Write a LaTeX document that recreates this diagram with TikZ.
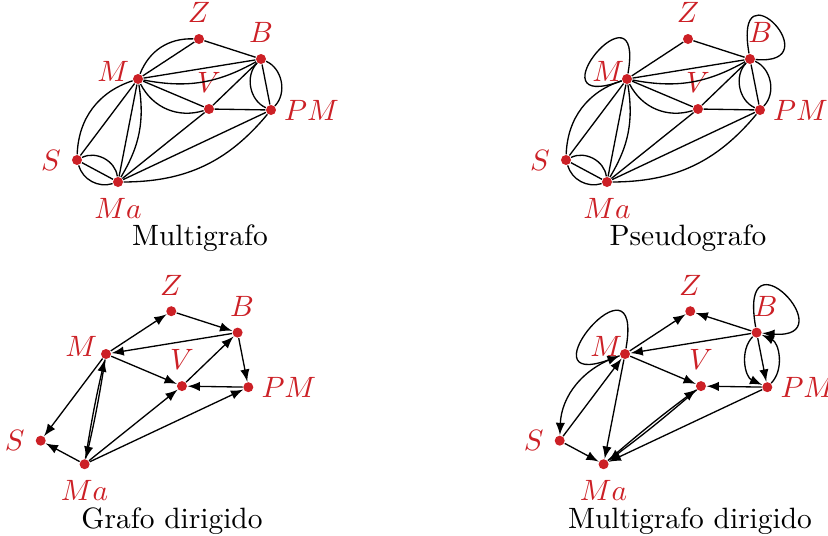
\documentclass[tikz,border=0pt]{standalone}
\usepackage{amsmath}
\usepackage{tikz}
\usetikzlibrary{arrows}
\definecolor{rojo}{RGB}{204,32,38}

% the seven vertices, placed relative to M (#1, #2: shift of the M and B labels)
\newcommand{\ponervertices}[2]{%
    \node (M) [vert, label={[label distance=-2.5pt, yshift=2.5pt, xshift=#1]left:$M$}] at (0,0) {};
    \node (Z) [vert, label=above:$Z$] at (61,40) {};
    \node (B) [vert, label={[xshift=#2]above:$B$}] at (123,20) {};
    \node (V) [vert, label=above:$V$] at (71,-30) {};
    \node (PM) [vert, label={[label distance=-1pt]right:$PM$}] at (133,-31) {};
    \node (S) [vert, label=left:$S$] at (-61,-81) {};
    \node (Ma) [vert, label=below:$Ma$] at (-20,-103) {};
}

\begin{document}
\begin{tikzpicture}[
    x=0.34pt, y=0.34pt, line width=0.45pt,
    vert/.style={circle, fill=rojo, inner sep=0pt, minimum size=3.4pt},
    every label/.style={text=rojo, font=\fontsize{10.2}{12}\selectfont},
    arco/.style={->,>=latex}
]
    \useasboundingbox (0,0) rectangle (828,-536);

    % Multigrafo
    \begin{scope}[shift={(138,-79)}]
        \ponervertices{0pt}{0pt}
        \draw (M) -- (Z);
        \draw (M) to[bend left=35] (Z);
        \draw (Z) -- (B);
        \draw (M) -- (B);
        \draw (M) to[bend right=20] (B);
        \draw (M) -- (V);
        \draw (M) to[bend right=40] (V);
        \draw (M) -- (S);
        \draw (M) to[bend right=35] (S);
        \draw (M) -- (Ma);
        \draw (M) to[bend left=20] (Ma);
        \draw (B) -- (V);
        \draw (B) -- (PM);
        \draw (B) to[bend left=55] (PM);
        \draw (B) to[bend right=55] (PM);
        \draw (V) -- (PM);
        \draw (V) -- (Ma);
        \draw (PM) -- (Ma);
        \draw (PM) to[bend left=25] (Ma);
        \draw (S) -- (Ma);
        \draw (S) to[bend left=55] (Ma);
        \draw (S) to[bend right=45] (Ma);
    \end{scope}
    \node (tmulti) at (200,-238) {Multigrafo};

    % Pseudografo
    \begin{scope}[shift={(627,-79)}]
        \ponervertices{2pt}{3.5pt}
        \draw (M) to[out=80, in=200, distance=34pt] (M);
        \draw (B) to[out=100, in=-5, out distance=32pt, in distance=26pt] (B);
        \draw (M) -- (Z);
        \draw (Z) -- (B);
        \draw (M) -- (B);
        \draw (M) to[bend right=20] (B);
        \draw (M) -- (V);
        \draw (M) to[bend right=40] (V);
        \draw (M) -- (S);
        \draw (M) to[bend right=35] (S);
        \draw (M) -- (Ma);
        \draw (M) to[bend left=20] (Ma);
        \draw (B) -- (V);
        \draw (B) -- (PM);
        \draw (B) to[bend left=55] (PM);
        \draw (B) to[bend right=55] (PM);
        \draw (V) -- (PM);
        \draw (V) -- (Ma);
        \draw (PM) -- (Ma);
        \draw (PM) to[bend left=25] (Ma);
        \draw (S) -- (Ma);
        \draw (S) to[bend left=55] (Ma);
        \draw (S) to[bend right=45] (Ma);
    \end{scope}
    \node (tpseudo) at (688,-238) {Pseudografo};

    % Grafo dirigido
    \begin{scope}[shift={(106,-354)}, scale=1.07]
        \ponervertices{0pt}{1.5pt}
        \draw [arco] (M) -- (Z);
        \draw [arco] (Z) -- (B);
        \draw [arco] (B) -- (M);
        \draw [arco] (M) -- (V);
        \draw [arco] (V) -- (B);
        \draw [arco] (B) -- (PM);
        \draw [arco] (PM) -- (V);
        \draw [arco] (M) -- (S);
        \draw [arco] (Ma) -- (S);
        \draw [arco] (M) to[bend left=2] (Ma);
        \draw [arco] (Ma) to[bend left=2] (M);
        \draw [arco] (Ma) -- (V);
        \draw [arco] (Ma) -- (PM);
    \end{scope}
    \node (tdir) at (172,-521) {Grafo dirigido};

    % Multigrafo dirigido
    \begin{scope}[shift={(625,-354)}, scale=1.07]
        \ponervertices{2pt}{3pt}
        \draw [arco] (M) to[out=80, in=200, distance=34pt] (M);
        \draw [arco] (B) to[out=100, in=-5, out distance=33pt, in distance=27pt] (B);
        \draw [arco] (M) -- (Z);
        \draw [arco] (B) -- (Z);
        \draw [arco] (B) -- (M);
        \draw [arco] (M) -- (V);
        \draw [arco] (PM) -- (V);
        \draw [arco] (B) -- (PM);
        \draw [arco] (B) to[bend right=55] (PM);
        \draw [arco] (PM) to[bend right=55] (B);
        \draw [arco] (M) to[bend right=35] (S);
        \draw [arco] (S) -- (M);
        \draw [arco] (S) -- (Ma);
        \draw [arco] (M) -- (Ma);
        \draw [arco] (Ma) to[bend left=2] (V);
        \draw [arco] (V) to[bend left=2] (Ma);
        \draw [arco] (PM) -- (Ma);
    \end{scope}
    \node (tmultidir) at (690,-521) {Multigrafo dirigido};
\end{tikzpicture}
\end{document}
